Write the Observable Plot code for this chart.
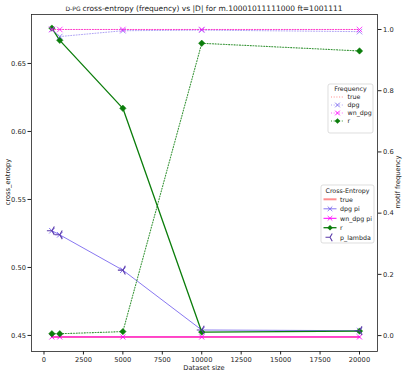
<!DOCTYPE html>
<html><head><meta charset="utf-8">
<script src="https://cdn.jsdelivr.net/npm/d3@7"></script>
<script src="https://cdn.jsdelivr.net/npm/@observablehq/plot@0.6"></script>
<style>
body{margin:0;background:#fff}
#wrap{position:relative;width:405px;height:375px;font-family:"DejaVu Sans",sans-serif}
#wrap > svg{position:absolute;left:0;top:0}
</style>
</head><body><div id="wrap"></div>
<script>
// ---- data ----
const sizes = [500, 1000, 5000, 10000, 20000];
// cross-entropy (left axis)
const ceTrue   = [0.4488, 0.4488, 0.4488, 0.4488, 0.4488];
const ceDpgPi  = [0.527, 0.524, 0.498, 0.454, 0.4535];
const ceWnPi   = [0.4489, 0.4489, 0.4489, 0.4489, 0.4489];
const ceR      = [0.676, 0.667, 0.617, 0.4525, 0.4532];
const ceLambda = [0.527, 0.524, 0.498, 0.454, 0.4535];
// motif frequency (right axis)
const fTrue = [1.0, 1.0, 1.0, 1.0, 1.0];
const fDpg  = [1.0, 0.977, 0.996, 0.998, 0.993];
const fWn   = [1.0, 1.0, 1.0, 1.0, 1.0];
const fR    = [0.006, 0.006, 0.013, 0.955, 0.93];
// ticks
const xTicks = [0, 2500, 5000, 7500, 10000, 12500, 15000, 17500, 20000];
const yLeftTicks = [0.45, 0.50, 0.55, 0.60, 0.65];
const yRightTicks = [0.0, 0.2, 0.4, 0.6, 0.8, 1.0];

const rows = arr => sizes.map((s, i) => ({s, v: arr[i]}));

const W = 405, H = 375;
const M = {left: 31, right: 28, top: 14, bottom: 24};
const xDomain = [-792, 21141];
const font = {fontFamily: "DejaVu Sans", fontSize: "6.7px", color: "#222", background: "transparent", overflow: "visible"};

const triLeft = {
  draw(ctx, size) {
    const r = Math.sqrt(size / Math.PI);
    ctx.moveTo(0, 0); ctx.lineTo(-r, 0);
    ctx.moveTo(0, 0); ctx.lineTo(r * 0.5, -r * 0.866);
    ctx.moveTo(0, 0); ctx.lineTo(r * 0.5, r * 0.866);
  }
};

const GREEN = "#0b7d0b", BLUE = "#7b68ee", MAG = "#ff00ff", RED = "#ff2020", PURP = "#5a3aa8";
const DOT = "1,1.7";

const left = Plot.plot({
  width: W, height: H,
  marginLeft: M.left, marginRight: M.right, marginTop: M.top, marginBottom: M.bottom,
  style: {...font, background: "white"},
  x: {domain: xDomain},
  y: {domain: [0.4382, 0.686]},
  marks: [
    Plot.axisX({ticks: xTicks, tickFormat: d3.format("d"), tickSize: 3.5, tickPadding: 2, label: null}),
    Plot.axisY({ticks: yLeftTicks, tickFormat: d3.format(".2f"), tickSize: 3.5, tickPadding: 2, label: null}),
    Plot.line(rows(ceTrue), {x: "s", y: "v", stroke: RED, strokeOpacity: 0.5, strokeWidth: 2}),
    Plot.line(rows(ceDpgPi), {x: "s", y: "v", stroke: BLUE, strokeWidth: 0.9}),
    Plot.dot(rows(ceDpgPi), {x: "s", y: "v", symbol: "times", r: 2.6, stroke: BLUE, strokeWidth: 0.9}),
    Plot.line(rows(ceWnPi), {x: "s", y: "v", stroke: MAG, strokeWidth: 1}),
    Plot.dot(rows(ceWnPi), {x: "s", y: "v", symbol: "times", r: 2.4, stroke: MAG, strokeWidth: 0.9}),
    Plot.line(rows(ceR), {x: "s", y: "v", stroke: GREEN, strokeWidth: 1.3}),
    Plot.dot(rows(ceR), {x: "s", y: "v", symbol: "diamond2", r: 2.9, fill: GREEN, stroke: GREEN, strokeWidth: 0.5}),
    Plot.dot(rows(ceLambda), {x: "s", y: "v", symbol: triLeft, r: 5, stroke: PURP, strokeWidth: 1.1})
  ]
});

const right = Plot.plot({
  width: W, height: H,
  marginLeft: M.left, marginRight: M.right, marginTop: M.top, marginBottom: M.bottom,
  style: font,
  x: {domain: xDomain, axis: null},
  y: {domain: [-0.052, 1.049]},
  marks: [
    Plot.frame({stroke: "#222", strokeWidth: 0.8}),
    Plot.axisY({anchor: "right", ticks: yRightTicks, tickFormat: d3.format(".1f"), tickSize: 3.5, tickPadding: 2, label: null}),
    Plot.line(rows(fTrue), {x: "s", y: "v", stroke: RED, strokeOpacity: 0.5, strokeWidth: 1, strokeDasharray: DOT}),
    Plot.line(rows(fDpg), {x: "s", y: "v", stroke: BLUE, strokeOpacity: 0.6, strokeWidth: 1, strokeDasharray: DOT}),
    Plot.dot(rows(fDpg), {x: "s", y: "v", symbol: "times", r: 2.6, stroke: BLUE, strokeOpacity: 0.8, strokeWidth: 0.9}),
    Plot.line(rows(fWn), {x: "s", y: "v", stroke: MAG, strokeOpacity: 0.6, strokeWidth: 1, strokeDasharray: DOT}),
    Plot.dot(rows(fWn), {x: "s", y: "v", symbol: "times", r: 2.6, stroke: MAG, strokeOpacity: 0.8, strokeWidth: 0.9}),
    Plot.line(rows(fR), {x: "s", y: "v", stroke: GREEN, strokeOpacity: 0.8, strokeWidth: 1.1, strokeDasharray: DOT}),
    Plot.dot(rows(fR), {x: "s", y: "v", symbol: "diamond2", r: 2.9, fill: GREEN, stroke: GREEN, strokeWidth: 0.5})
  ]
});

const wrap = document.getElementById("wrap");
wrap.appendChild(left);
wrap.appendChild(right);

// overlay: titles, axis labels, legends
const ov = d3.select(wrap).append("svg").attr("width", W).attr("height", H)
  .style("font-family", "DejaVu Sans").style("fill", "#222");

const title = ov.append("text").attr("x", 204).attr("y", 10.5).attr("text-anchor", "middle").style("font-size", "7.5px");
title.append("tspan").style("font-size", "6px").text("D-PG ");
title.append("tspan").text(" cross-entropy (frequency) vs |D| for m.10001011111000 ft=1001111");

ov.append("text").attr("x", 204).attr("y", 370).attr("text-anchor", "middle").style("font-size", "6.7px").text("Dataset size");
ov.append("text").attr("transform", "translate(9.5,182) rotate(-90)").attr("text-anchor", "middle").style("font-size", "6.7px").text("cross_entropy");
ov.append("text").attr("transform", "translate(400,182) rotate(-90)").attr("text-anchor", "middle").style("font-size", "6.7px").text("motif frequency");

function legend(box, titleText, items) {
  const g = ov.append("g");
  g.append("rect").attr("x", box.x).attr("y", box.y).attr("width", box.w).attr("height", box.h)
    .attr("rx", 2).attr("fill", "white").attr("fill-opacity", 0.85).attr("stroke", "#d0d0d0").attr("stroke-width", 0.7);
  g.append("text").attr("x", box.x + box.w / 2).attr("y", box.ty + 2.3).attr("text-anchor", "middle")
    .style("font-size", "6.3px").text(titleText);
  items.forEach((it, i) => {
    const y = box.rows[i];
    const x0 = box.hx0, x1 = box.hx1, xm = (x0 + x1) / 2;
    if (it.line) {
      g.append("line").attr("x1", x0).attr("x2", x1).attr("y1", y).attr("y2", y)
        .attr("stroke", it.color).attr("stroke-width", it.w || 1)
        .attr("stroke-opacity", it.op || 1).attr("stroke-dasharray", it.dash || null);
    }
    const s = 2.3;
    if (it.marker === "x") {
      g.append("path").attr("d", `M${xm - s},${y - s}L${xm + s},${y + s}M${xm - s},${y + s}L${xm + s},${y - s}`)
        .attr("stroke", it.color).attr("stroke-width", 0.9).attr("fill", "none");
    } else if (it.marker === "D") {
      const d = 2.8;
      g.append("path").attr("d", `M${xm},${y - d}L${xm + d},${y}L${xm},${y + d}L${xm - d},${y}Z`).attr("fill", it.color);
    } else if (it.marker === "tri") {
      const r = 4.5;
      g.append("path").attr("d", `M${xm},${y}L${xm - r},${y}M${xm},${y}L${xm + r * 0.5},${y - r * 0.866}M${xm},${y}L${xm + r * 0.5},${y + r * 0.866}`)
        .attr("stroke", it.color).attr("stroke-width", 1.1).attr("fill", "none");
    }
    g.append("text").attr("x", box.lx).attr("y", y + 2.2).style("font-size", "6.3px").text(it.label);
  });
}

legend({x: 328, y: 84, w: 45, h: 49, ty: 88.5, rows: [97, 105, 113, 121], hx0: 331, hx1: 344, lx: 347.5}, "Frequency", [
  {label: "true", color: RED, line: true, op: 0.5, dash: DOT},
  {label: "dpg", color: BLUE, line: true, op: 0.6, dash: DOT, marker: "x"},
  {label: "wn_dpg", color: MAG, line: true, op: 0.6, dash: DOT, marker: "x"},
  {label: "r", color: GREEN, line: true, op: 0.8, dash: DOT, marker: "D"}
]);

legend({x: 321, y: 185, w: 53, h: 58, ty: 190.7, rows: [199.3, 208.8, 218.3, 227.7, 237.3], hx0: 323.5, hx1: 336.5, lx: 340}, "Cross-Entropy", [
  {label: "true", color: RED, line: true, op: 0.5, w: 2},
  {label: "dpg pi", color: BLUE, line: true, w: 0.9, marker: "x"},
  {label: "wn_dpg pi", color: MAG, line: true, marker: "x"},
  {label: "r", color: GREEN, line: true, w: 1.3, marker: "D"},
  {label: "p_lambda", color: PURP, marker: "tri"}
]);
</script>
</body></html>
